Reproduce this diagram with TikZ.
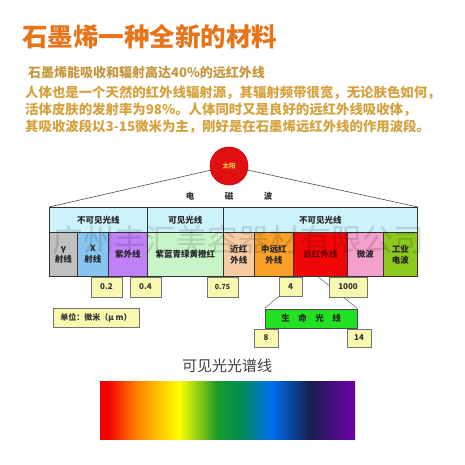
\documentclass[tikz,border=0pt]{standalone}
\usepackage{fontspec}
\setmainfont{Noto Sans CJK SC}
\usetikzlibrary{calc}
\definecolor{titleor}{HTML}{E8741A}
\definecolor{subtan}{HTML}{C8963C}
\definecolor{paragold}{HTML}{D6A23E}
\definecolor{topcyan}{HTML}{CCF2FA}
\definecolor{cgamma}{HTML}{C0C0C0}
\definecolor{cxray}{HTML}{88C4F0}
\definecolor{cuv}{HTML}{C080F6}
\definecolor{cvis}{HTML}{C8F5C8}
\definecolor{cnir}{HTML}{F8CBA4}
\definecolor{cmir}{HTML}{F8A028}
\definecolor{cfir}{HTML}{F00808}
\definecolor{cmw}{HTML}{F4A0CC}
\definecolor{cradio}{HTML}{8CC81E}
\definecolor{valyel}{HTML}{F8F8B0}
\definecolor{lifegreen}{HTML}{22E022}
\definecolor{sunred}{HTML}{E01010}
\definecolor{sunText}{HTML}{F8C040}
\definecolor{sR}{HTML}{F20000}
\definecolor{sO}{HTML}{FF8000}
\definecolor{sY}{HTML}{FFFF00}
\definecolor{sG}{HTML}{1A9A2A}
\definecolor{sT}{HTML}{008A5A}
\definecolor{sB}{HTML}{0070F0}
\definecolor{sN}{HTML}{142050}
\definecolor{sP}{HTML}{7000A8}
\pgfdeclarehorizontalshading{spec}{100bp}{color(0bp)=(sR); color(25bp)=(sR); color(26.5bp)=(sR); color(32bp)=(sO); color(40.5bp)=(sY); color(48bp)=(sG); color(53bp)=(sT); color(58.5bp)=(sB); color(66bp)=(sN); color(75bp)=(sP); color(100bp)=(sP)}
\tikzset{
  cell/.style={draw=black!80, line width=0.9pt, anchor=north west, inner sep=0pt,
    font=\fontsize{8.5}{11}\selectfont\bfseries, text=black!85, align=center},
  valbox/.style={draw=black!55, line width=0.8pt, fill=valyel, inner sep=0pt,
    font=\fontsize{8}{10}\selectfont\bfseries, text=black!80},
  conn/.style={draw=black!55, line width=0.6pt},
  para/.style={anchor=west, inner sep=0pt, text=paragold, font=\fontsize{13.4}{16}\selectfont\bfseries},
  wave/.style={inner sep=0pt, font=\fontsize{8.5}{10}\selectfont\bfseries, text=black!80}
}
\begin{document}
\begin{tikzpicture}[x=1pt,y=-1pt]
\useasboundingbox (0,0) rectangle (465,465);
\fill[white] (0,0) rectangle (465,465);

% headings
\node[anchor=west, inner sep=0pt, text=titleor, font=\fontsize{25.5}{28}\selectfont\bfseries] (title) at (22,37) {石墨烯一种全新的材料};
\node[anchor=west, inner sep=0pt, text=subtan, font=\fontsize{13}{15}\selectfont\bfseries] (sub) at (28,73) {石墨烯能吸收和辐射高达40\%的远红外线};
\node[para] (p1) at (25,93) {人体也是一个天然的红外线辐射源，其辐射频带很宽，无论肤色如何，};
\node[para] (p2) at (25,110) {活体皮肤的发射率为98\%。人体同时又是良好的远红外线吸收体，};
\node[para] (p3) at (25,127) {其吸收波段以3-15微米为主，刚好是在石墨烯远红外线的作用波段。};

% table top row
\node[cell, fill=topcyan, minimum width=98pt, minimum height=25pt] (t1) at (49,207) {不可见光线};
\node[cell, fill=topcyan, minimum width=76pt, minimum height=25pt] (t2) at (147,207) {可见光线};
\node[cell, fill=topcyan, minimum width=194pt, minimum height=25pt] (t3) at (223,207) {不可见光线};

% table bottom row
\node[cell, fill=cgamma, minimum width=28pt, minimum height=44pt] (b1) at (49,232) {γ\\射线};
\node[cell, fill=cxray, minimum width=31pt, minimum height=44pt] (b2) at (77,232) {X\\射线};
\node[cell, fill=cuv, minimum width=39pt, minimum height=44pt] (b3) at (108,232) {紫外线};
\node[cell, fill=cvis, minimum width=76pt, minimum height=44pt] (b4) at (147,232) {紫蓝青绿黄橙红};
\node[cell, fill=cnir, minimum width=31pt, minimum height=44pt] (b5) at (223,232) {近红\\外线};
\node[cell, fill=cmir, minimum width=39pt, minimum height=44pt] (b6) at (254,232) {中远红\\外线};
\node[cell, fill=cfir, minimum width=54pt, minimum height=44pt, text=red!45!black] (b7) at (293,232) {远红外线};
\node[cell, fill=cmw, minimum width=36pt, minimum height=44pt] (b8) at (347,232) {微波};
\node[cell, fill=cradio, minimum width=34pt, minimum height=44pt] (b9) at (383,232) {工业\\电波};

% sun and electromagnetic wave
\node[circle, fill=sunred, draw=red!80!black, line width=0.6pt, minimum size=38pt, inner sep=0pt,
  text=sunText, font=\fontsize{6.5}{7}\selectfont\bfseries] (sun) at (229,166) {太阳};
\draw[conn, draw=black!70] (sun) -- (t1.north west);
\draw[conn, draw=black!70] (sun) -- (t3.north east);
\node[wave] (w1) at (190,196) {电};
\node[wave] (w2) at (229,196) {磁};
\node[wave] (w3) at (268,196) {波};

% connectors to life-light box
\coordinate (firb) at ($(b7.south west)!0.46!(b7.south east)$);
\node[draw=black!70, line width=0.8pt, fill=lifegreen, inner sep=0pt, minimum width=92pt, minimum height=19pt,
  font=\fontsize{8.5}{10}\selectfont\bfseries, text=black!85] (life) at (311,318.5) {生\quad 命\quad 光\quad 线};
\draw[conn] (firb) -- (life.north east);

% value boxes
\node[valbox, minimum width=31pt, minimum height=20pt] (v1) at (106.5,287) {0.2};
\node[valbox, minimum width=31pt, minimum height=20pt] (v2) at (145.5,287) {0.4};
\node[valbox, minimum width=31pt, minimum height=20pt, font=\fontsize{7}{9}\selectfont\bfseries] (v3) at (222.5,287) {0.75};
\node[valbox, minimum width=23pt, minimum height=19pt] (v4) at (290.5,286.5) {4};
\node[valbox, minimum width=38pt, minimum height=20pt] (v5) at (348,287) {1000};
\draw[conn] (v4.south west) -- (life.north west);

\node[valbox, minimum width=86pt, minimum height=19pt] (unit) at (96,317.5) {单位：微米（μ m）};
\node[valbox, minimum width=24pt, minimum height=18pt] (v8) at (266,338) {8};
\node[valbox, minimum width=24pt, minimum height=18pt] (v14) at (359,338) {14};

% visible spectrum
\node[inner sep=0pt, text=black!75, font=\fontsize{15}{17}\selectfont] (spt) at (227,366) {可见光光谱线};
\shade[shading=spec] (100,381) rectangle (355,439);
\coordinate (specbox) at (227.5,410);

% watermark
\node[inner sep=0pt, text=black, opacity=0.13, font=\fontsize{31}{33}\selectfont] (wm) at (238,240) {广州丰汇美容器材有限公司};
\end{tikzpicture}
\end{document}
